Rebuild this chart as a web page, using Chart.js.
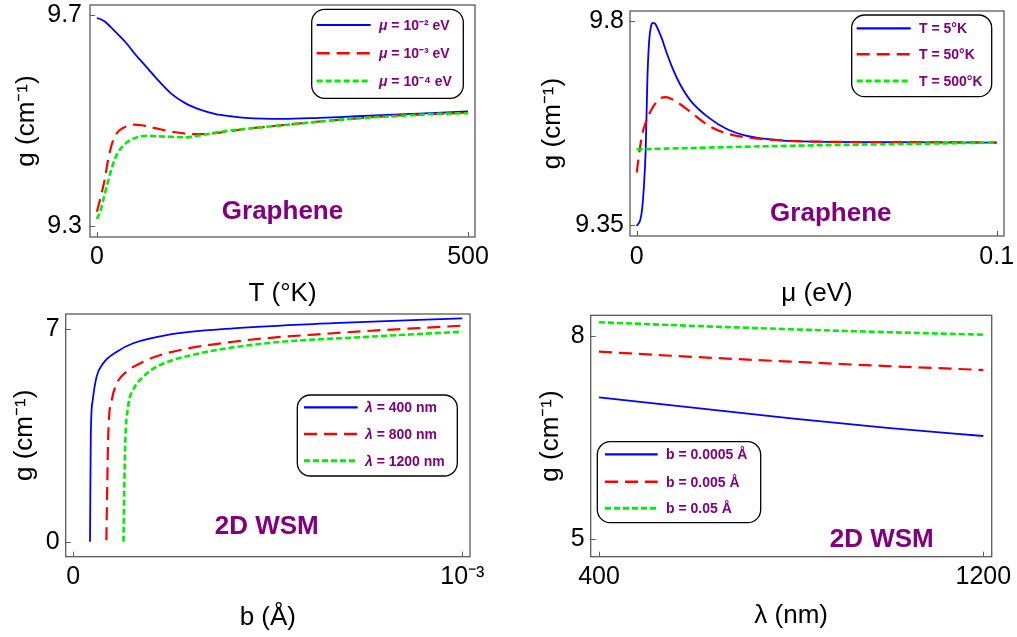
<!DOCTYPE html>
<html><head><meta charset="utf-8">
<script src="https://cdn.jsdelivr.net/npm/chart.js@4.4.0/dist/chart.umd.min.js"></script>
<style>
html,body{margin:0;padding:0;background:#fff;}
body{width:1017px;height:637px;position:relative;overflow:hidden;}
canvas{position:absolute;display:block;}
</style></head><body>
<canvas id="c1" width="500" height="310" style="left:0px;top:0px"></canvas>
<canvas id="c2" width="517" height="310" style="left:500px;top:0px"></canvas>
<canvas id="c3" width="500" height="337" style="left:0px;top:300px"></canvas>
<canvas id="c4" width="517" height="337" style="left:500px;top:300px"></canvas>
<script>
// ---------- Panel 1: g vs T (Graphene) ----------
const tempK   = [0,5,10,15,20,25,30,40,50,60,70,80,100,120,140,160,180,200,250,300,350,400,450,500];
const g_mu1e2 = [9.694,9.692,9.688,9.682,9.675,9.668,9.661,9.646,9.628,9.612,9.596,9.580,9.551,9.532,9.520,9.512,9.508,9.505,9.503,9.505,9.508,9.511,9.514,9.517];
const g_mu1e3 = [9.327,9.355,9.385,9.425,9.455,9.472,9.481,9.489,9.492,9.491,9.488,9.485,9.479,9.475,9.474,9.476,9.480,9.484,9.491,9.498,9.504,9.509,9.512,9.515];
const g_mu1e4 = [9.313,9.330,9.358,9.385,9.410,9.430,9.443,9.458,9.466,9.470,9.471,9.470,9.469,9.468,9.472,9.477,9.481,9.484,9.491,9.498,9.504,9.508,9.512,9.514];
const legend1 = ['μ = 10⁻² eV','μ = 10⁻³ eV','μ = 10⁻⁴ eV'];
const xTicks1 = [0,500], xTickLabels1 = ['0','500'];
const yTicks1 = [9.3,9.7], yTickLabels1 = ['9.3','9.7'];

// ---------- Panel 2: g vs mu (Graphene) ----------
const muEv   = [0,0.001,0.0015,0.002,0.0025,0.003,0.0035,0.004,0.0045,0.005,0.006,0.007,0.008,0.01,0.012,0.015,0.02,0.025,0.03,0.04,0.05,0.07,0.1];
const g_T5   = [9.348,9.362,9.385,9.435,9.516,9.680,9.760,9.789,9.796,9.795,9.780,9.761,9.737,9.695,9.661,9.624,9.587,9.562,9.548,9.537,9.534,9.533,9.532];
const g_T50  = [9.466,9.525,9.548,9.564,9.576,9.586,9.595,9.603,9.610,9.616,9.626,9.631,9.632,9.627,9.617,9.599,9.569,9.552,9.544,9.537,9.534,9.533,9.532];
const muEv500 = [0,0.02,0.05,0.075,0.1];
const g_T500 = [9.517,9.521,9.526,9.529,9.532];
const legend2 = ['T = 5°K','T = 50°K','T = 500°K'];
const xTicks2 = [0,0.1], xTickLabels2 = ['0','0.1'];
const yTicks2 = [9.35,9.8], yTickLabels2 = ['9.35','9.8'];

// ---------- Panel 3: g vs b (2D WSM) ----------
const b_l400  = [4.3e-5,4.5e-5,5.0e-5,6.0e-5,7.7e-5,1.12e-4,1.54e-4,2.4e-4,4.11e-4,6.68e-4,1e-3];
const g_l400  = [0,3.5,4.67,5.44,5.88,6.26,6.54,6.81,7.03,7.20,7.36];
const b_l800  = [8.5e-5,9.0e-5,9.9e-5,1.12e-4,1.37e-4,1.8e-4,2.4e-4,4.11e-4,6.68e-4,1e-3];
const g_l800  = [0.05,3.57,4.67,5.22,5.60,5.93,6.21,6.59,6.87,7.12];
const b_l1200 = [1.29e-4,1.33e-4,1.41e-4,1.54e-4,1.8e-4,2.23e-4,3.26e-4,4.97e-4,7.54e-4,1e-3];
const g_l1200 = [0,3.02,4.45,5.0,5.44,5.82,6.21,6.54,6.75,6.92];
const legend3 = ['λ = 400 nm','λ = 800 nm','λ = 1200 nm'];
const xTicks3 = [0,1e-3], xTickLabels3 = ['0','10⁻³'];
const yTicks3 = [0,7], yTickLabels3 = ['0','7'];

// ---------- Panel 4: g vs lambda (2D WSM) ----------
const lambdaNm = [400,600,800,1000,1200];
const g_b0005  = [7.095,6.940,6.785,6.645,6.524];
const g_b005   = [7.768,7.690,7.621,7.556,7.498];
const g_b05    = [8.202,8.148,8.099,8.056,8.019];
const legend4 = ['b = 0.0005 Å','b = 0.005 Å','b = 0.05 Å'];
const xTicks4 = [400,1200], xTickLabels4 = ['400','1200'];
const yTicks4 = [5,8], yTickLabels4 = ['5','8'];

// ---------- shared styling ----------
const FONT = '"Liberation Sans", Arial, Helvetica, sans-serif';
const PURPLE = '#800080';
const STYLES = [
  {color:'#0000ff', dash:[], width:1.8, order:3},
  {color:'#ff0000', dash:[13,7], width:2.2, order:2},
  {color:'#00ee00', dash:[6,3], width:2.6, order:1}
];
const pts = (xs, ys) => xs.map((x,i)=>({x, y: ys[i]}));

const framePlugin = {
  id:'frame',
  afterDatasetsDraw(chart){
    const {ctx, chartArea:a, scales} = chart;
    ctx.save();
    ctx.strokeStyle = '#5a5a5a';
    ctx.lineWidth = 1.3;
    ctx.strokeRect(a.left, a.top, a.right - a.left, a.bottom - a.top);
    ctx.lineWidth = 1;
    ctx.beginPath();
    scales.y.ticks.forEach(t => {
      const y = Math.round(scales.y.getPixelForValue(t.value)) + 0.5;
      ctx.moveTo(a.left, y); ctx.lineTo(a.left + 5, y);
    });
    scales.x.ticks.forEach(t => {
      const x = Math.round(scales.x.getPixelForValue(t.value)) + 0.5;
      ctx.moveTo(x, a.bottom); ctx.lineTo(x, a.bottom - 5);
    });
    ctx.stroke();
    ctx.restore();
  }
};

const overlayPlugin = {
  id:'overlay',
  afterDraw(chart, args, o){
    const ctx = chart.ctx;
    ctx.save();
    // annotation
    ctx.fillStyle = PURPLE;
    ctx.font = 'bold 26px ' + FONT;
    ctx.textAlign = 'center';
    ctx.textBaseline = 'middle';
    ctx.fillText(o.note, o.noteX, o.noteY);
    // legend box
    const b = o.box;
    ctx.beginPath();
    ctx.roundRect(b.x0, b.y0, b.x1 - b.x0, b.y1 - b.y0, 13);
    ctx.fillStyle = '#fff';
    ctx.fill();
    ctx.strokeStyle = '#000';
    ctx.lineWidth = 1.3;
    ctx.stroke();
    o.labels.forEach((lab, i) => {
      const st = STYLES[i];
      const y = o.rows[i];
      ctx.beginPath();
      ctx.setLineDash(st.dash);
      ctx.strokeStyle = st.color;
      ctx.lineWidth = st.width + 0.4;
      ctx.moveTo(o.lx0, y); ctx.lineTo(o.lx1, y);
      ctx.stroke();
      ctx.setLineDash([]);
      ctx.fillStyle = PURPLE;
      ctx.textAlign = 'left';
      ctx.textBaseline = 'middle';
      let x = o.tx;
      const first = lab.charAt(0);
      let rest = lab;
      if (first === 'μ' || first === 'λ') {
        ctx.font = 'italic bold 14px ' + FONT;
        ctx.fillText(first, x, y + 1);
        x += ctx.measureText(first).width;
        rest = lab.slice(1);
      }
      ctx.font = 'bold 14px ' + FONT;
      ctx.fillText(rest, x, y + 1);
    });
    ctx.restore();
  }
};

function makeChart(id, c) {
  const datasets = c.series.map((s, i) => ({
    data: s,
    borderColor: STYLES[i].color,
    borderDash: STYLES[i].dash,
    borderWidth: STYLES[i].width,
    order: STYLES[i].order,
    pointRadius: 0,
    fill: false,
    cubicInterpolationMode: 'monotone'
  }));
  const tickFont = {family: FONT, size: 25};
  const titleFont = {family: FONT, size: 26};
  return new Chart(document.getElementById(id), {
    type: 'line',
    data: {datasets},
    options: {
      responsive: false,
      animation: false,
      events: [],
      layout: {padding: {left: 0, top: c.padTop, right: c.padRight, bottom: 0}},
      plugins: {legend: {display: false}, tooltip: {enabled: false},
                overlay: c.overlay},
      scales: {
        x: {
          type: 'linear', min: c.xMin, max: c.xMax,
          afterBuildTicks: s => { s.ticks = c.xTicks.map(v => ({value: v})); },
          afterFit: s => { s.height = c.xHeight; s.paddingLeft = 0; s.paddingRight = 0; },
          ticks: {callback: (v, i) => c.xTickLabels[i], font: tickFont, color: '#000',
                  padding: c.xTickPad, maxRotation: 0, autoSkip: false},
          grid: {display: false, drawTicks: false},
          border: {display: false},
          title: {display: true, text: c.xTitle, font: titleFont, color: '#000',
                  padding: {top: 0, bottom: c.xTitlePad}}
        },
        y: {
          type: 'linear', min: c.yMin, max: c.yMax,
          afterBuildTicks: s => { s.ticks = c.yTicks.map(v => ({value: v})); },
          afterFit: s => { s.width = c.yWidth; s.paddingTop = 0; s.paddingBottom = 0; },
          ticks: {callback: (v, i) => c.yTickLabels[i], font: tickFont, color: '#000',
                  padding: c.yTickPad, autoSkip: false},
          grid: {display: false, drawTicks: false},
          border: {display: false},
          title: {display: true, text: 'g (cm⁻¹)', font: titleFont, color: '#000',
                  padding: {top: c.yTitlePad, bottom: 0}}
        }
      }
    },
    plugins: [framePlugin, overlayPlugin]
  });
}

makeChart('c1', {
  series: [pts(tempK, g_mu1e2), pts(tempK, g_mu1e3), pts(tempK, g_mu1e4)],
  xMin: -9.4, xMax: 509.4, yMin: 9.279, yMax: 9.719,
  xTicks: xTicks1, xTickLabels: xTickLabels1, yTicks: yTicks1, yTickLabels: yTickLabels1,
  padTop: 5, padRight: 25, xHeight: 73, yWidth: 90,
  xTickPad: 5, yTickPad: 8, xTitlePad: 1, yTitlePad: 11,
  xTitle: 'T (°K)',
  overlay: {note: 'Graphene', noteX: 282.5, noteY: 212,
            box: {x0: 311.7, y0: 9.3, x1: 463.3, y1: 98.3},
            lx0: 316.7, lx1: 370.7, rows: [25, 53.3, 81], tx: 379, labels: legend1}
});

makeChart('c2', {
  series: [pts(muEv, g_T5), pts(muEv, g_T50), pts(muEv500, g_T500)],
  xMin: -0.00186, xMax: 0.10203, yMin: 9.326, yMax: 9.822,
  xTicks: xTicks2, xTickLabels: xTickLabels2, yTicks: yTicks2, yTickLabels: yTickLabels2,
  padTop: 11, padRight: 13, xHeight: 74, yWidth: 130,
  xTickPad: 6, yTickPad: 6, xTitlePad: 1, yTitlePad: 37,
  xTitle: 'μ (eV)',
  overlay: {note: 'Graphene', noteX: 330.8, noteY: 214,
            box: {x0: 351.7, y0: 15, x1: 491.7, y1: 96.7},
            lx0: 356.7, lx1: 410.7, rows: [28.3, 54.3, 81], tx: 419, labels: legend2}
});

makeChart('c3', {
  series: [pts(b_l400, g_l400), pts(b_l800, g_l800), pts(b_l1200, g_l1200)],
  xMin: -1.95e-5, xMax: 1.0198e-3, yMin: -0.494, yMax: 7.504,
  xTicks: xTicks3, xTickLabels: xTickLabels3, yTicks: yTicks3, yTickLabels: yTickLabels3,
  padTop: 14, padRight: 30, xHeight: 80.3, yWidth: 65.7,
  xTickPad: 5, yTickPad: 6, xTitlePad: 4, yTitlePad: 9,
  xTitle: 'b (Å)',
  overlay: {note: '2D WSM', noteX: 266.7, noteY: 227,
            box: {x0: 297.3, y0: 95, x1: 457.3, y1: 176},
            lx0: 304, lx1: 357.7, rows: [107.3, 134, 160.7], tx: 365, labels: legend3}
});

makeChart('c4', {
  series: [pts(lambdaNm, g_b0005), pts(lambdaNm, g_b005), pts(lambdaNm, g_b05)],
  xMin: 382.7, xMax: 1217.5, yMin: 4.743, yMax: 8.305,
  xTicks: xTicks4, xTickLabels: xTickLabels4, yTicks: yTicks4, yTickLabels: yTickLabels4,
  padTop: 15.3, padRight: 25.3, xHeight: 80.3, yWidth: 90.7,
  xTickPad: 5, yTickPad: 6, xTitlePad: 6, yTitlePad: 35,
  xTitle: 'λ (nm)',
  overlay: {note: '2D WSM', noteX: 381.7, noteY: 240,
            box: {x0: 97.3, y0: 141.7, x1: 260.7, y1: 222.7},
            lx0: 105, lx1: 157.7, rows: [154.3, 181.7, 208.3], tx: 166, labels: legend4}
});
</script>
</body></html>
